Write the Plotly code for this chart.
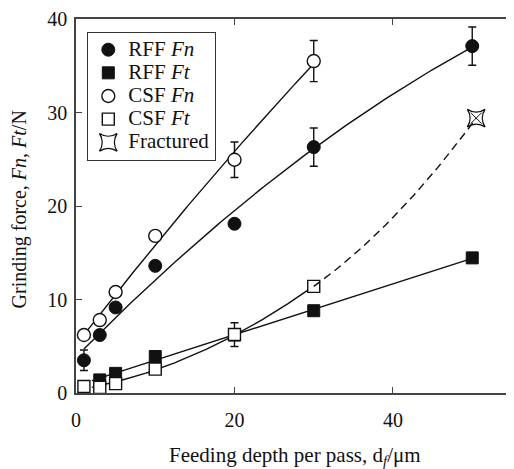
import numpy as np
import plotly.graph_objects as go

# ---- data ----
rff_fn_x = [1, 3, 5, 10, 20, 30, 50]
rff_fn_y = [3.5, 6.2, 9.15, 13.6, 18.1, 26.3, 37.1]
rff_fn_err = [1.1, None, None, None, None, 2.05, 2.05]

rff_ft_x = [3, 5, 10, 20, 30, 50]
rff_ft_y = [1.4, 2.1, 3.9, 6.2, 8.8, 14.45]

csf_fn_x = [1, 3, 5, 10, 20, 30]
csf_fn_y = [6.2, 7.8, 10.8, 16.8, 24.95, 35.5]
csf_fn_err = [None, None, None, None, 1.9, 2.2]

csf_ft_x = [1, 3, 5, 10, 20, 30]
csf_ft_y = [0.7, 0.6, 1.0, 2.55, 6.25, 11.4]
csf_ft_err = [None, None, None, None, 1.27, None]

fract_x = [50.5]
fract_y = [29.4]

# fitted-curve extents
rff_fn_fit = (1.0, 50.0)
csf_fn_fit = (0.5, 30.0)
rff_ft_fit = (2.0, 50.0)
csf_ft_fit = (2.0, 30.0)

x_ticks = [0, 20, 40]
y_ticks = [0, 10, 20, 30, 40]

FONT = "Liberation Serif"
BLACK = "#111111"

fig = go.Figure()


def fit_curve(xs, ys, ext, deg=2):
    c = np.polyfit(xs, ys, deg)
    xx = np.linspace(ext[0], ext[1], 120)
    return xx, np.polyval(c, xx), c


def add_line(xx, yy, dash="solid", yaxis="y"):
    fig.add_trace(go.Scatter(x=xx, y=yy, mode="lines", showlegend=False,
                             hoverinfo="skip", yaxis=yaxis,
                             line=dict(color=BLACK, width=1.4, dash=dash)))


xx, yy, _ = fit_curve(rff_fn_x, rff_fn_y, rff_fn_fit)
add_line(xx, yy)
xx, yy, _ = fit_curve(csf_fn_x, csf_fn_y, csf_fn_fit)
add_line(xx, yy)
xx, yy, _ = fit_curve(rff_ft_x, rff_ft_y, rff_ft_fit)
add_line(xx, yy)
xx, yy, c_csf = fit_curve(csf_ft_x, csf_ft_y, csf_ft_fit)
add_line(xx, yy)

# dashed extension from last CSF Ft point to the fractured point
x0, y0 = csf_ft_x[-1], csf_ft_y[-1]
x1, y1 = fract_x[0], fract_y[0]
slope = np.polyval(np.polyder(c_csf), x0)
k = (y1 - y0 - slope * (x1 - x0)) / (x1 - x0) ** 2
xd = np.linspace(x0, x1, 60)
yd = y0 + slope * (xd - x0) + k * (xd - x0) ** 2
add_line(xd, yd, dash="8px,5px", yaxis="y2")


def err(arr):
    return dict(type="data", array=arr, visible=True, color=BLACK,
                thickness=1.4, width=4)


def nm(s):
    return '<span style="font-size:21px">' + s + "</span>"


fig.add_trace(go.Scatter(x=rff_fn_x, y=rff_fn_y, mode="markers", name=nm("RFF <i>Fn</i>"),
                         marker=dict(symbol="circle", size=13, color=BLACK,
                                     line=dict(color=BLACK, width=1)),
                         error_y=err(rff_fn_err)))
fig.add_trace(go.Scatter(x=rff_ft_x, y=rff_ft_y, mode="markers", name=nm("RFF <i>Ft</i>"),
                         marker=dict(symbol="square", size=12, color=BLACK,
                                     line=dict(color=BLACK, width=1))))
fig.add_trace(go.Scatter(x=csf_fn_x, y=csf_fn_y, mode="markers", name=nm("CSF <i>Fn</i>"),
                         marker=dict(symbol="circle", size=13, color="white",
                                     line=dict(color=BLACK, width=1.4)),
                         error_y=err(csf_fn_err)))
fig.add_trace(go.Scatter(x=csf_ft_x, y=csf_ft_y, mode="markers", name=nm("CSF <i>Ft</i>"),
                         marker=dict(symbol="square", size=12, color="white",
                                     line=dict(color=BLACK, width=1.4)),
                         error_y=err(csf_ft_err)))
fig.add_trace(go.Scatter(x=fract_x, y=fract_y, mode="markers", name=nm("Fractured"),
                         marker=dict(symbol="star-square", size=16, color="white",
                                     line=dict(color=BLACK, width=1.4))))
fig.add_trace(go.Scatter(x=fract_x, y=fract_y, mode="markers", showlegend=False,
                         hoverinfo="skip", yaxis="y2",
                         marker=dict(symbol="x-thin", size=11,
                                     line=dict(color=BLACK, width=1))))

axis_common = dict(showgrid=False, zeroline=False, ticks="inside",
                   tickcolor="#444", linecolor="#444", linewidth=1.5,
                   ticklabeloverflow="allow",
                   tickfont=dict(family=FONT, size=20, color=BLACK))

# the page body adds an 8px margin; figure coordinates below compensate
W, H = 506, 461
L, T, R, B = 68, 6, 0, 76
pw, ph = W - L - R, H - T - B

fig.update_layout(
    width=W, height=H,
    margin=dict(l=L, r=R, t=T, b=B),
    paper_bgcolor="white", plot_bgcolor="white",
    font=dict(family=FONT, size=20, color=BLACK),
    xaxis=dict(range=[0, 55.27], tickvals=x_ticks, showline=True, mirror="ticks",
               ticklen=6, ticklabelstandoff=8, **axis_common),
    yaxis=dict(range=[0, 40], tickvals=y_ticks, showline=True, mirror=False,
               ticklen=6, ticklabelstandoff=3, **axis_common),
    yaxis2=dict(range=[0, 40], tickvals=y_ticks, overlaying="y", side="right",
                anchor="x", showline=False, showticklabels=False, showgrid=False,
                zeroline=False, ticks="inside", ticklen=7, tickwidth=1.3,
                tickcolor="#444"),
    legend=dict(x=11 / pw, y=1 - 13 / ph, xanchor="left", yanchor="top",
                bordercolor="#333", borderwidth=1.3, bgcolor="white",
                font=dict(family=FONT, size=15.5, color=BLACK),
                tracegroupgap=0, itemwidth=30),
    showlegend=True,
    annotations=[
        dict(text="Feeding depth per pass, d<sub><i>f</i></sub>/μm",
             x=(219) / pw, xref="paper", y=-(449 - (T + ph)) / ph, yref="paper",
             xanchor="center", yanchor="middle", showarrow=False,
             font=dict(family=FONT, size=21, color=BLACK)),
        dict(text="Grinding force, <i>Fn</i>, <i>Ft</i>/N", textangle=-90,
             x=(11 - L) / pw, xref="paper", y=(T + ph - 199) / ph, yref="paper",
             xanchor="center", yanchor="middle", showarrow=False,
             font=dict(family=FONT, size=20, color=BLACK)),
    ],
)

fig.write_html("out.html")
